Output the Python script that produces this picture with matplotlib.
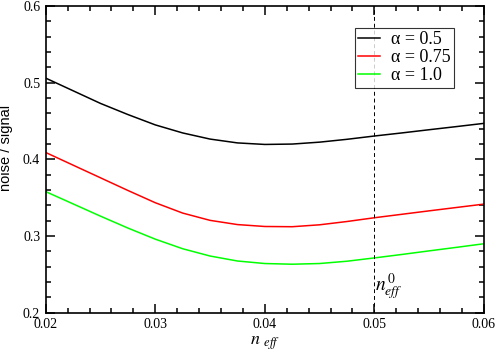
import numpy as np
import matplotlib
matplotlib.use("Agg")
import matplotlib.pyplot as plt
from matplotlib.ticker import MultipleLocator

# ── Data ────────────────────────────────────────────────────
n_eff = [0.02, 0.0225, 0.025, 0.0275, 0.03, 0.0325, 0.035, 0.0375, 0.04,
         0.0425, 0.045, 0.0475, 0.05, 0.0525, 0.055, 0.0575, 0.06]

ns_a050 = [0.506, 0.4895, 0.4730, 0.4585, 0.4450, 0.4345, 0.4265, 0.4215,
           0.4195, 0.4200, 0.4225, 0.4262, 0.4305, 0.4345, 0.4387, 0.4428,
           0.4470]
ns_a075 = [0.409, 0.3925, 0.3760, 0.3595, 0.3435, 0.3300, 0.3205, 0.3150,
           0.3125, 0.3122, 0.3147, 0.3190, 0.3239, 0.3284, 0.3329, 0.3373,
           0.3417]
ns_a100 = [0.358, 0.3420, 0.3260, 0.3105, 0.2960, 0.2835, 0.2740, 0.2675,
           0.2642, 0.2633, 0.2642, 0.2672, 0.2715, 0.2760, 0.2807, 0.2853,
           0.2900]

labels = ["α = 0.5", "α = 0.75", "α = 1.0"]
colors = ["black", "#ff0000", "#00ff00"]
n_eff0 = 0.05

# ── Plot ─────────────────────────────────────────────────────
plt.rcParams["mathtext.fontset"] = "stix"
serif = "Liberation Serif"

fig = plt.figure(figsize=(4.98, 3.55), dpi=100)
ax = fig.add_axes([0.0918, 0.119, 0.880, 0.864])

for ys, lab, c in zip([ns_a050, ns_a075, ns_a100], labels, colors):
    ax.plot(n_eff, ys, color=c, lw=1.1, label=lab, solid_joinstyle="round")

ax.axvline(n_eff0, color="black", lw=0.7, ls=(0, (4, 3)))
ax.text(n_eff0 + 0.0001, 0.214, r"$n^{\,0}_{eff}$", fontsize=14,
        ha="left", va="bottom")

ax.set_xlim(0.02, 0.06)
ax.set_ylim(0.2, 0.6)
ax.xaxis.set_major_locator(MultipleLocator(0.01))
ax.xaxis.set_minor_locator(MultipleLocator(0.002))
ax.yaxis.set_major_locator(MultipleLocator(0.1))
ax.yaxis.set_minor_locator(MultipleLocator(0.02))
ax.set_xticklabels([f"{v:g}" for v in ax.get_xticks()])
ax.set_yticklabels([f"{v:g}" for v in ax.get_yticks()])

ax.tick_params(which="both", direction="in", top=True, right=True,
               width=1.1, labelsize=10)
ax.tick_params(which="major", length=6.5, pad=4)
ax.tick_params(which="minor", length=3.5)
for lbl in ax.get_xticklabels() + ax.get_yticklabels():
    lbl.set_family(serif)
for sp in ax.spines.values():
    sp.set_linewidth(1.2)

ax.set_xlabel(r"$n\ _{eff}$", fontsize=13, labelpad=2)
ax.set_ylabel("noise / signal", family="Liberation Sans", fontsize=10.5)
ax.yaxis.set_label_coords(-0.075, 0.537)

leg = ax.legend(loc="upper right", bbox_to_anchor=(0.932, 0.93),
                prop={"family": serif, "size": 13}, frameon=True,
                fancybox=False, handlelength=1.2, handletextpad=0.6,
                borderpad=0.2, labelspacing=0.05, borderaxespad=0)
leg.get_frame().set_edgecolor("black")
leg.get_frame().set_linewidth(0.8)

fig.savefig("out.png", dpi=100)
